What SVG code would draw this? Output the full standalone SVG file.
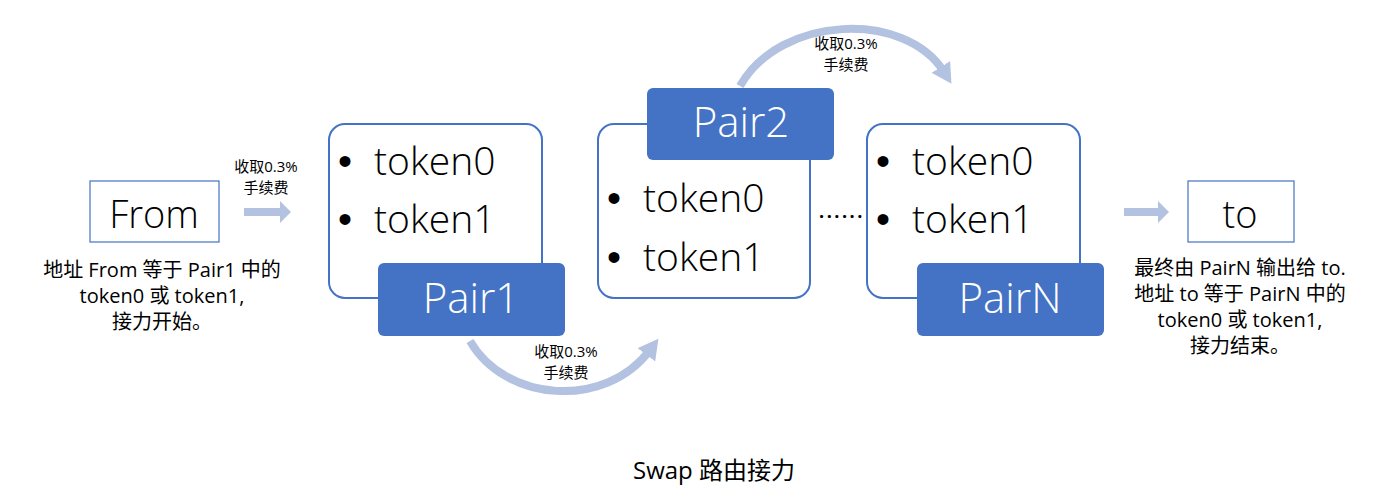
<svg xmlns="http://www.w3.org/2000/svg" width="1384" height="502" viewBox="0 0 1384 502">
<style>
text{font-family:"Open Sans","Noto Sans CJK SC","Microsoft YaHei",sans-serif;fill:#000}
.frame{fill:#fff;stroke:#4472C4;stroke-width:2}
.pair{fill:#4472C4;stroke:none}
.pt{fill:#fff;font-size:42px;text-anchor:middle;font-weight:300}
.tk{font-size:39px;font-weight:300}
.bl{font-family:"Liberation Sans",sans-serif;font-size:40px}
.lbl{font-size:15px;text-anchor:middle}
.desc{font-size:20px;text-anchor:middle}
.conn{fill:none;stroke:#B4C2E1;stroke-width:8}
.head{fill:#B4C2E1}
</style>
<defs>
<marker id="ah" markerUnits="userSpaceOnUse" markerWidth="22" markerHeight="22" refX="6" refY="11" orient="auto">
<path d="M0,0 L20,11 L0,22 Z" fill="#B4C2E1"/>
</marker>
</defs>
<g id="connectors">
<rect x="244" y="208" width="36" height="8" class="head"/>
<path d="M280,201 L291,212 L280,223 Z" class="head"/>
<rect x="1124" y="208" width="34" height="8" class="head"/>
<path d="M1158,201 L1169,212 L1158,223 Z" class="head"/>
<path class="conn" d="M470,341 C505,402 605,410 650,350" marker-end="url(#ah)"/>
<path class="conn" d="M740,86 C780,15 905,10 944,72" marker-end="url(#ah)"/>
</g>
<g id="from">
<rect x="90" y="181" width="129" height="61" fill="#fff" stroke="#4472C4" stroke-width="1.2"/>
<text x="154" y="228" font-size="38" text-anchor="middle" font-weight="300">From</text>
</g>
<g id="pair1">
<rect x="329" y="124" width="213" height="174" rx="16" class="frame"/>
<text x="338" y="175" class="bl">•</text>
<text x="374" y="175" class="tk">token0</text>
<text x="338" y="233" class="bl">•</text>
<text x="374" y="233" class="tk">token1</text>
<rect x="378" y="263" width="187" height="73" rx="6" class="pair"/>
<text x="471" y="313" class="pt">Pair1</text>
</g>
<g id="pair2">
<rect x="598" y="124" width="212" height="174" rx="16" class="frame"/>
<text x="607" y="212" class="bl">•</text>
<text x="643" y="212" class="tk">token0</text>
<text x="607" y="271" class="bl">•</text>
<text x="643" y="271" class="tk">token1</text>
<rect x="647" y="88" width="187" height="72" rx="6" class="pair"/>
<text x="741" y="137" class="pt">Pair2</text>
</g>
<g id="dots">
<text x="819" y="218" font-size="18" font-weight="bold" letter-spacing="2.5">......</text>
</g>
<g id="pairN">
<rect x="867" y="124" width="213" height="174" rx="16" class="frame"/>
<text x="876" y="175" class="bl">•</text>
<text x="912" y="175" class="tk">token0</text>
<text x="876" y="233" class="bl">•</text>
<text x="912" y="233" class="tk">token1</text>
<rect x="917" y="263" width="187" height="73" rx="6" class="pair"/>
<text x="1010" y="313" class="pt">PairN</text>
</g>
<g id="to">
<rect x="1188" y="181" width="106" height="61" fill="#fff" stroke="#4472C4" stroke-width="1.2"/>
<text x="1240" y="228" font-size="38" text-anchor="middle" font-weight="300">to</text>
</g>
<g id="labels">
<text x="266" y="172" class="lbl">收取0.3%</text>
<text x="266" y="193" class="lbl">手续费</text>
<text x="566" y="357" class="lbl">收取0.3%</text>
<text x="566" y="378" class="lbl">手续费</text>
<text x="846" y="49" class="lbl">收取0.3%</text>
<text x="846" y="70" class="lbl">手续费</text>
<text x="162" y="277" class="desc">地址 From 等于 Pair1 中的</text>
<text x="162" y="303" class="desc">token0 或 token1,</text>
<text x="162" y="329" class="desc">接力开始。</text>
<text x="1240" y="275" class="desc">最终由 PairN 输出给 to.</text>
<text x="1240" y="301" class="desc">地址 to 等于 PairN 中的</text>
<text x="1240" y="327" class="desc">token0 或 token1,</text>
<text x="1240" y="353" class="desc">接力结束。</text>
<text x="714" y="479" font-size="24" text-anchor="middle">Swap 路由接力</text>
</g>
</svg>
